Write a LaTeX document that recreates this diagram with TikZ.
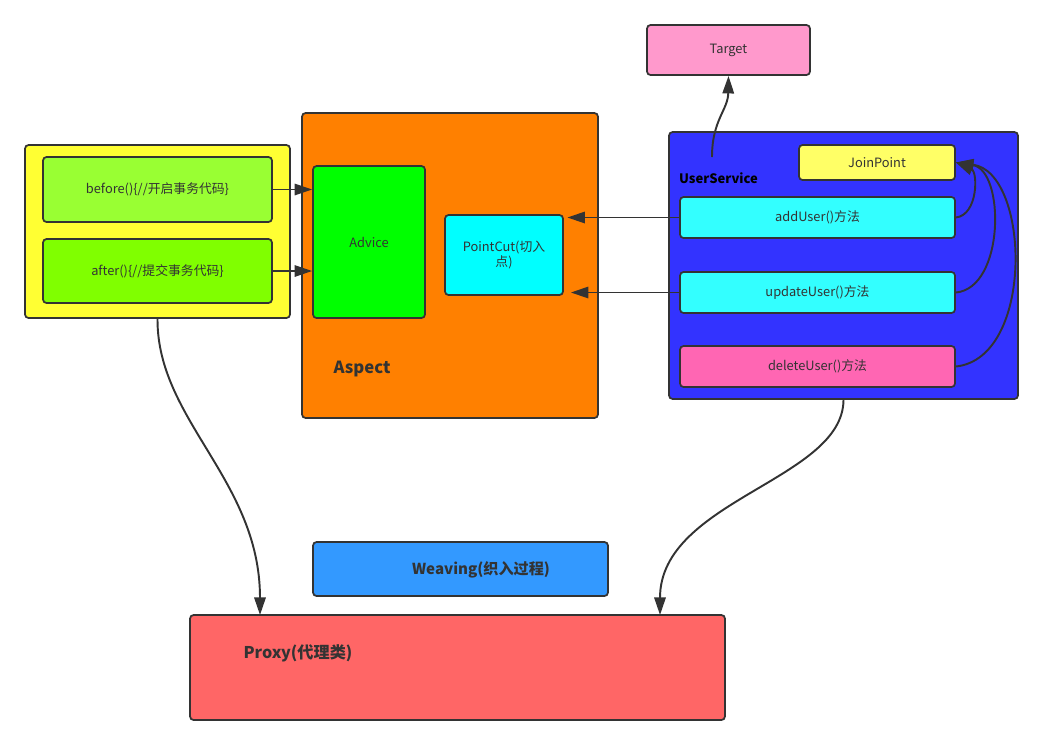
\documentclass[tikz,border=0pt]{standalone}
\usepackage{fontspec}
\setmainfont{Noto Sans CJK SC}
\usetikzlibrary{arrows.meta}
\definecolor{ink}{HTML}{333333}
\definecolor{targetpink}{HTML}{FF99CC}
\definecolor{txyellow}{HTML}{FFFF33}
\definecolor{beforegreen}{HTML}{99FF33}
\definecolor{aftergreen}{HTML}{80FF00}
\definecolor{aspectorange}{HTML}{FF8000}
\definecolor{advicegreen}{HTML}{00FF00}
\definecolor{cutcyan}{HTML}{00FFFF}
\definecolor{svcblue}{HTML}{3333FF}
\definecolor{joinyellow}{HTML}{FFFF66}
\definecolor{methodcyan}{HTML}{33FFFF}
\definecolor{deletepink}{HTML}{FF66B3}
\definecolor{weaveblue}{HTML}{3399FF}
\definecolor{proxyred}{HTML}{FF6666}
\begin{document}
\begin{tikzpicture}[x=0.02cm, y=-0.02cm,
    box/.style={draw=ink, line width=1pt, rounded corners=2pt, text=ink,
        font=\fontsize{7.3}{9}\selectfont, inner sep=0pt, align=center},
    tag/.style={text=ink, font=\fontsize{9.5}{11}\selectfont\bfseries},
    link/.style={draw=ink, line width=1.1pt, -{Triangle[length=10pt, width=6.5pt]}}]
    \useasboundingbox (0,0) rectangle (1061,745);
    % Target
    \node[box, fill=targetpink, minimum width=3.26cm, minimum height=1.0cm] (target) at (728.5,50) {Target};
    % Transaction code
    \node[box, fill=txyellow, minimum width=5.3cm, minimum height=3.46cm] (txbox) at (157.5,231.5) {};
    \node[box, fill=beforegreen, minimum width=4.58cm, minimum height=1.3cm] (beforeadv) at (157.5,189.5) {before()\{//开启事务代码\}};
    \node[box, fill=aftergreen, minimum width=4.58cm, minimum height=1.28cm] (afteradv) at (157.5,271) {after()\{//提交事务代码\}};
    % Aspect
    \node[box, fill=aspectorange, minimum width=5.92cm, minimum height=6.1cm] (aspect) at (450,265.5) {};
    \node[box, fill=advicegreen, minimum width=2.24cm, minimum height=3.04cm] (advice) at (369,242) {Advice};
    \node[box, fill=cutcyan, minimum width=2.36cm, minimum height=1.6cm] (pointcut) at (504,255) {PointCut(切入\\点)};
    \node[tag] (aspecttag) at (362,369) {Aspect};
    % UserService
    \node[box, fill=svcblue, minimum width=6.98cm, minimum height=5.34cm] (usersvc) at (843.5,265.5) {};
    \node[tag, text=black, font=\fontsize{7.4}{9}\selectfont\bfseries, anchor=west] (svctag) at (673,178) {UserService};
    \node[box, fill=joinyellow, minimum width=3.12cm, minimum height=0.7cm] (joinpoint) at (877,162.5) {JoinPoint};
    \node[box, fill=methodcyan, minimum width=5.5cm, minimum height=0.82cm] (adduser) at (817.5,217.5) {addUser()方法};
    \node[box, fill=methodcyan, minimum width=5.5cm, minimum height=0.82cm] (updateuser) at (817.5,292.5) {updateUser()方法};
    \node[box, fill=deletepink, minimum width=5.5cm, minimum height=0.82cm] (deleteuser) at (817.5,366.5) {deleteUser()方法};
    \coordinate (svcstart) at (712,157);
    % Weaving & Proxy
    \node[box, fill=weaveblue, minimum width=5.9cm, minimum height=1.08cm] (weaving) at (460.5,569) {};
    \node[tag, font=\fontsize{8.6}{10}\selectfont\bfseries] (weavetag) at (481,570) {Weaving(织入过程)};
    \node[box, fill=proxyred, minimum width=10.7cm, minimum height=2.1cm] (proxy) at (457.5,667.5) {};
    \node[tag, font=\fontsize{9.2}{11}\selectfont\bfseries] (proxytag) at (298,653) {Proxy(代理类)};
    \coordinate (proxyleft) at (260,615);
    \coordinate (proxyright) at (660,615);
    % Connectors
    \draw[link] (beforeadv.east) -- (advice.west |- beforeadv.east);
    \draw[link] (afteradv.east) -- (advice.west |- afteradv.east);
    \draw[link] (adduser.west) -- ([xshift=2pt]pointcut.east |- adduser.west);
    \draw[link] (updateuser.west) -- ([xshift=4pt]pointcut.east |- updateuser.west);
    \draw[link] (svcstart) .. controls (712,120) and (728,110) .. (target.south);
    \draw[link] (adduser.east) .. controls (978,215) and (978,172) .. (joinpoint.east);
    \draw[link] (updateuser.east) .. controls (1005,288) and (1005,170) .. (joinpoint.east);
    \draw[link] (deleteuser.east) .. controls (1035,358) and (1030,172) .. (joinpoint.east);
    \draw[link] (txbox.south) .. controls (157,420) and (260,480) .. (proxyleft);
    \draw[link] (usersvc.south) .. controls (843,480) and (660,500) .. (proxyright);
\end{tikzpicture}
\end{document}
